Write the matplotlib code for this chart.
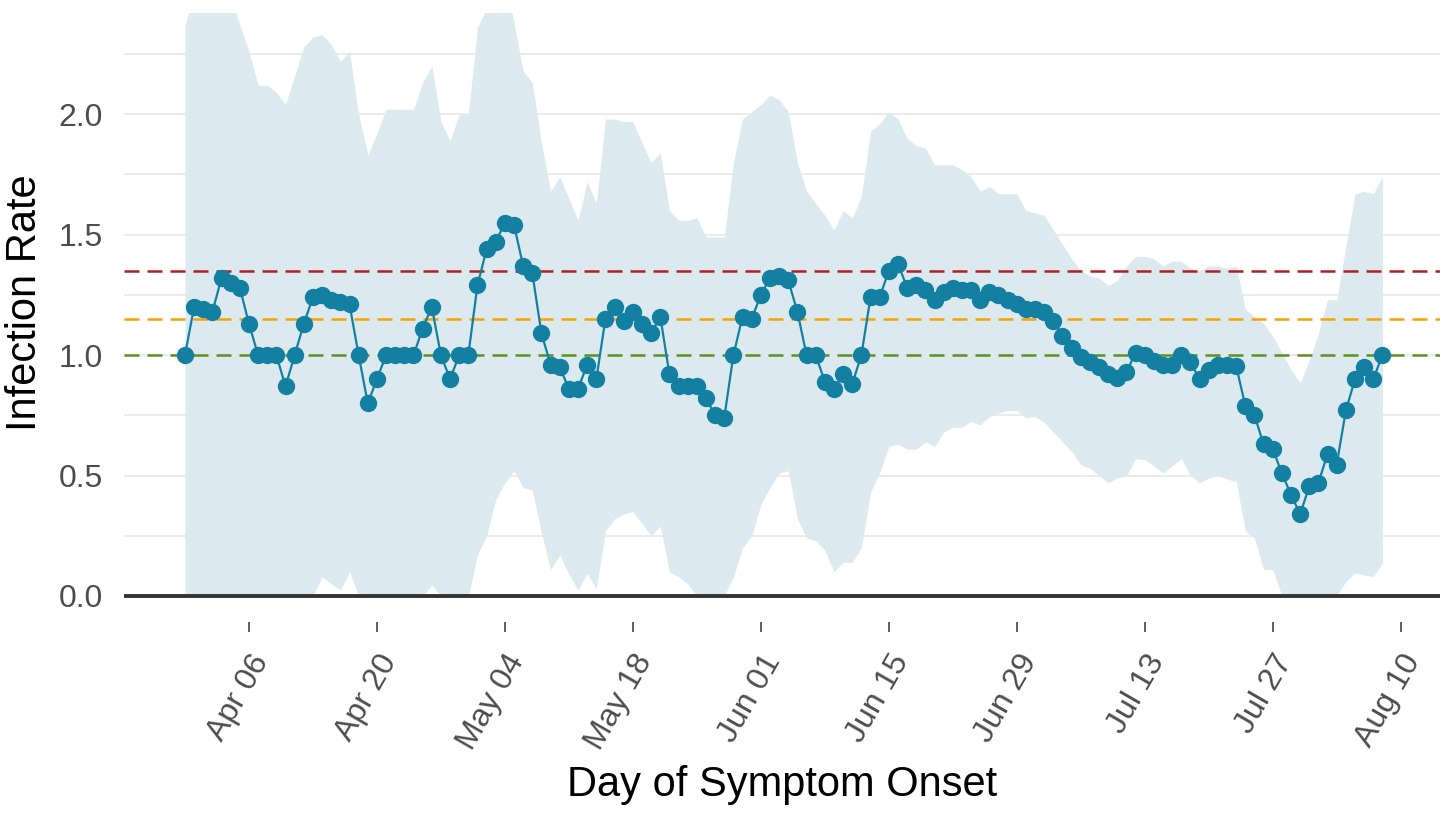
import matplotlib
matplotlib.use("Agg")
import matplotlib.pyplot as plt
import matplotlib.dates as mdates
import matplotlib.transforms as mtransforms
import numpy as np
import pandas as pd

plt.rcParams['font.family'] = ['Liberation Sans', 'DejaVu Sans']

# daily estimates, one value per day of symptom onset
start_date = "2020-03-30"
rate = [
    1.00, 1.20, 1.19, 1.18, 1.32, 1.30, 1.28, 1.13, 1.00, 1.00,
    1.00, 0.87, 1.00, 1.13, 1.24, 1.25, 1.23, 1.22, 1.21, 1.00,
    0.80, 0.90, 1.00, 1.00, 1.00, 1.00, 1.11, 1.20, 1.00, 0.90,
    1.00, 1.00, 1.29, 1.44, 1.47, 1.55, 1.54, 1.37, 1.34, 1.09,
    0.96, 0.95, 0.86, 0.86, 0.96, 0.90, 1.15, 1.20, 1.14, 1.18,
    1.13, 1.09, 1.16, 0.92, 0.87, 0.87, 0.87, 0.82, 0.75, 0.74,
    1.00, 1.16, 1.15, 1.25, 1.32, 1.33, 1.31, 1.18, 1.00, 1.00,
    0.89, 0.86, 0.92, 0.88, 1.00, 1.24, 1.24, 1.35, 1.38, 1.28,
    1.29, 1.27, 1.23, 1.26, 1.28, 1.27, 1.27, 1.23, 1.26, 1.25,
    1.23, 1.21, 1.19, 1.19, 1.18, 1.14, 1.08, 1.03, 0.99, 0.97,
    0.95, 0.92, 0.905, 0.93, 1.01, 1.00, 0.975, 0.96, 0.96, 1.00,
    0.97, 0.90, 0.94, 0.96, 0.96, 0.955, 0.79, 0.75, 0.63, 0.61,
    0.51, 0.42, 0.34, 0.455, 0.47, 0.59, 0.545, 0.77, 0.90, 0.95,
    0.90, 1.00,
]
upper = [
    2.37, 2.50, 2.55, 2.60, 2.55, 2.50, 2.37, 2.26, 2.12, 2.12,
    2.09, 2.04, 2.16, 2.28, 2.32, 2.33, 2.29, 2.22, 2.26, 2.00,
    1.83, 1.92, 2.02, 2.02, 2.02, 2.02, 2.13, 2.20, 1.97, 1.89,
    2.00, 2.00, 2.36, 2.44, 2.55, 2.55, 2.38, 2.18, 2.13, 1.88,
    1.68, 1.74, 1.65, 1.56, 1.72, 1.63, 1.98, 1.98, 1.97, 1.97,
    1.88, 1.80, 1.84, 1.60, 1.56, 1.56, 1.57, 1.49, 1.49, 1.49,
    1.80, 1.98, 2.01, 2.04, 2.08, 2.06, 2.01, 1.80, 1.68, 1.63,
    1.58, 1.52, 1.60, 1.57, 1.66, 1.93, 1.96, 2.01, 1.98, 1.90,
    1.87, 1.86, 1.79, 1.79, 1.79, 1.77, 1.74, 1.68, 1.70, 1.67,
    1.67, 1.67, 1.60, 1.59, 1.58, 1.52, 1.46, 1.40, 1.35, 1.33,
    1.32, 1.29, 1.31, 1.37, 1.41, 1.41, 1.40, 1.37, 1.39, 1.39,
    1.36, 1.35, 1.37, 1.37, 1.36, 1.37, 1.19, 1.16, 1.13, 1.08,
    1.01, 0.94, 0.885, 0.98, 1.09, 1.23, 1.23, 1.45, 1.67, 1.68,
    1.67, 1.74,
]
lower = [
    0.00, 0.00, 0.00, 0.00, 0.00, 0.00, 0.00, 0.00, 0.00, 0.00,
    0.00, 0.00, 0.00, 0.00, 0.00, 0.08, 0.05, 0.025, 0.10, 0.00,
    0.00, 0.00, 0.00, 0.00, 0.00, 0.00, 0.00, 0.045, 0.00, 0.00,
    0.00, 0.00, 0.17, 0.25, 0.40, 0.47, 0.52, 0.45, 0.44, 0.26,
    0.11, 0.17, 0.09, 0.025, 0.094, 0.03, 0.27, 0.32, 0.34, 0.35,
    0.30, 0.25, 0.29, 0.10, 0.08, 0.05, 0.00, 0.00, 0.00, 0.00,
    0.08, 0.20, 0.25, 0.38, 0.45, 0.51, 0.52, 0.32, 0.24, 0.23,
    0.19, 0.10, 0.14, 0.14, 0.20, 0.43, 0.51, 0.62, 0.63, 0.61,
    0.61, 0.64, 0.62, 0.68, 0.70, 0.70, 0.725, 0.71, 0.745, 0.76,
    0.77, 0.77, 0.74, 0.745, 0.72, 0.68, 0.64, 0.60, 0.545, 0.53,
    0.50, 0.47, 0.49, 0.50, 0.57, 0.565, 0.54, 0.51, 0.54, 0.57,
    0.50, 0.47, 0.49, 0.50, 0.485, 0.475, 0.27, 0.24, 0.11, 0.11,
    0.00, 0.00, 0.00, 0.00, 0.00, 0.00, 0.00, 0.06, 0.095, 0.087,
    0.08, 0.136,
]
ref_levels = [1.35, 1.15, 1.0]
ref_colors = ['#AE2025', '#F5A300', '#5E9020']
tick_dates = ["2020-04-06", "2020-04-20", "2020-05-04", "2020-05-18", "2020-06-01",
              "2020-06-15", "2020-06-29", "2020-07-13", "2020-07-27", "2020-08-10"]

days = pd.date_range(start_date, periods=len(rate), freq="D")

fig = plt.figure(figsize=(14.47, 8.15), dpi=100)
ax = fig.add_axes([124 / 1447, 1 - 622 / 815, 1316 / 1447, 609 / 815])

ax.fill_between(days, lower, upper, color='#dceaf0', linewidth=0, zorder=1)
for lev, col in zip(ref_levels, ref_colors):
    ax.axhline(lev, color=col, lw=1.8, dashes=(6, 3.2), zorder=3)
ax.axhline(0, color='#333333', lw=2.8, zorder=3)
ax.plot(days, rate, color='#1380A1', lw=1.6, marker='o', ms=12.5,
        markeredgewidth=0, zorder=4)

ax.set_ylim(-0.108, 2.42)
ax.set_xlim(days[0] - pd.Timedelta(days=6.67), days[0] + pd.Timedelta(days=137.3))

ax.set_yticks([0, 0.5, 1.0, 1.5, 2.0])
ax.set_yticks([0.25, 0.75, 1.25, 1.75, 2.25], minor=True)
ax.set_yticklabels(['0.0', '0.5', '1.0', '1.5', '2.0'])
ax.grid(axis='y', which='both', color='#ebebeb', lw=1.4, zorder=0)
ax.set_axisbelow(True)

ax.set_xticks(pd.to_datetime(tick_dates))
ax.xaxis.set_major_formatter(mdates.DateFormatter('%b %d'))

for s in ax.spines.values():
    s.set_visible(False)

ax.tick_params(axis='y', which='both', length=0, pad=15, labelsize=23, labelcolor='#4D4D4D')
ax.tick_params(axis='x', length=7.2, width=1.1, color='#333333', pad=18,
               labelsize=23, labelcolor='#4D4D4D')

offset = mtransforms.ScaledTranslation(0.13, 0, fig.dpi_scale_trans)
for lab in ax.get_xticklabels():
    lab.set_rotation(60)
    lab.set_rotation_mode('anchor')
    lab.set_ha('right')
    lab.set_va('center')
    lab.set_transform(lab.get_transform() + offset)

ax.set_ylabel('Infection Rate', fontsize=30, color='black')
ax.yaxis.set_label_coords(-0.060, 0.525)
ax.set_xlabel('Day of Symptom Onset', fontsize=30, color='black')
ax.xaxis.set_label_coords(0.5, -0.235)

fig.savefig('out.png', dpi=100)
